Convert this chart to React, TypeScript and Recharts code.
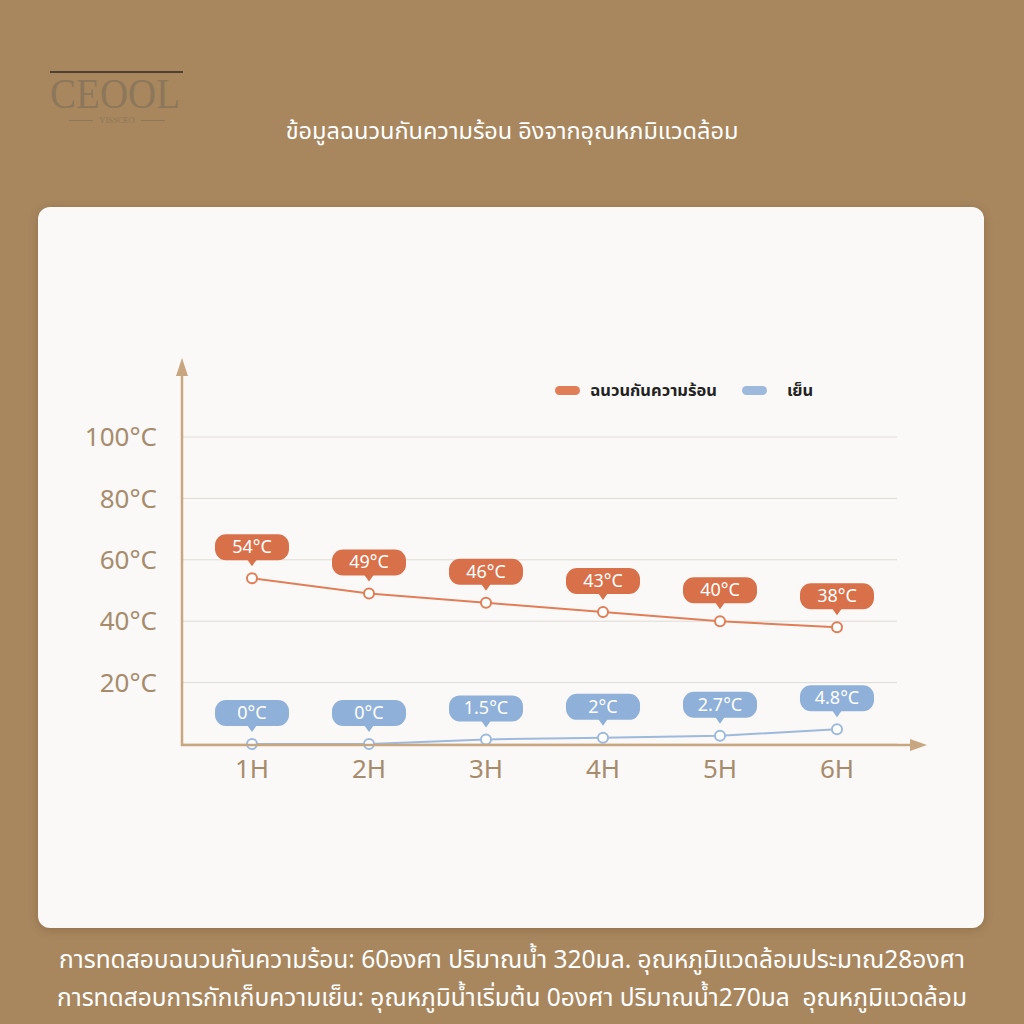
import { LineChart, Line, XAxis, YAxis, CartesianGrid, LabelList } from 'recharts';

const hours = ['1H', '2H', '3H', '4H', '5H', '6H'];
const hotValues = [54, 49, 46, 43, 40, 38];
const coldValues = [0, 0, 1.5, 2, 2.7, 4.8];
const yTicks = [20, 40, 60, 80, 100];

const hotName = 'ฉนวนกันความร้อน';
const coldName = 'เย็น';

const data = hours.map((h, i) => ({ hour: h, hot: hotValues[i], cold: coldValues[i] }));

const ORANGE = '#E07E58';
const ORANGE_PILL = '#D8704A';
const BLUE = '#9DBADD';
const BLUE_PILL = '#8FB0D8';
const AXIS = '#C8A680';
const TICK = '#A68C6C';
const THAI = '"Noto Sans Thai", "Noto Sans", "DejaVu Sans", sans-serif';

const makePill = (color: string) => (props: any) => {
    const { x, y, value } = props;
    const w = 74;
    const h = 26;
    const cy = y - 31;
    const top = cy - h / 2;
    const bottom = cy + h / 2;
    return (
        <g>
            <rect x={x - w / 2} y={top} width={w} height={h} rx={11} ry={11} fill={color} />
            <path d={`M${x - 5},${bottom - 1} L${x + 5},${bottom - 1} L${x},${bottom + 6} Z`} fill={color} />
            <text
                x={x}
                y={cy + 1}
                textAnchor="middle"
                dominantBaseline="middle"
                fill="#fff"
                fontSize={18}
                fontFamily='"Noto Sans", sans-serif'
            >
                {`${value}°C`}
            </text>
        </g>
    );
};

const LegendBox = () => (
    <div style={{ display: 'flex', alignItems: 'center', fontFamily: THAI, fontWeight: 700, fontSize: 16.5, color: '#222' }}>
        <span style={{ width: 25, height: 9, borderRadius: 5, background: ORANGE, display: 'inline-block', marginRight: 10 }} />
        <span>{hotName}</span>
        <span style={{ width: 25, height: 9, borderRadius: 5, background: BLUE, display: 'inline-block', marginLeft: 25, marginRight: 20 }} />
        <span>{coldName}</span>
    </div>
);

export default function App() {
    return (
        <div style={{ position: 'absolute', left: 0, top: 0, width: 1024, height: 1024, background: '#A8875F', overflow: 'hidden' }}>
            {/* logo */}
            <div style={{ position: 'absolute', left: 50, top: 71, width: 133, height: 1.5, background: '#4E4034' }} />
            <div style={{ position: 'absolute', left: 50, top: 76, fontFamily: '"Liberation Serif", serif', fontSize: 42, lineHeight: '36px', color: '#8D775B', transform: 'scaleX(0.93)', transformOrigin: 'left top' }}>
                CEOOL
            </div>
            <div style={{ position: 'absolute', left: 56, top: 116, width: 122, display: 'flex', alignItems: 'center', justifyContent: 'center', fontFamily: '"Liberation Serif", serif', fontSize: 8.5, lineHeight: '9px', color: '#8D775B' }}>
                <span style={{ width: 24, height: 1, background: '#8D775B', marginRight: 6 }} />
                VISSCEO
                <span style={{ width: 24, height: 1, background: '#8D775B', marginLeft: 6 }} />
            </div>

            <div style={{ position: 'absolute', left: 0, width: 1024, top: 114, textAlign: 'center', fontFamily: THAI, fontSize: 23.5, color: '#fff' }}>
                ข้อมูลฉนวนกันความร้อน อิงจากอุณหภมิแวดล้อม
            </div>

            {/* card */}
            <div style={{ position: 'absolute', left: 38, top: 207, width: 946, height: 721, background: '#FBF9F7', borderRadius: 12, boxShadow: '0 2px 10px rgba(80,50,20,0.25)' }} />

            <div style={{ position: 'absolute', left: 0, top: 0 }}>
                <LineChart
                    width={1024}
                    height={1024}
                    data={data}
                    margin={{ top: 437, right: 127, left: 82, bottom: 240 }}
                >
                    <CartesianGrid horizontal vertical={false} stroke="#DEDAD5" strokeWidth={1} />
                    <XAxis
                        dataKey="hour"
                        height={40}
                        padding={{ left: 70, right: 60 }}
                        axisLine={false}
                        tickLine={false}
                        tickSize={0}
                        tickMargin={16}
                        tick={{ fill: TICK, fontSize: 26, fontFamily: '"Noto Sans", sans-serif' }}
                    />
                    <YAxis
                        width={100}
                        domain={[0, 100]}
                        ticks={yTicks}
                        axisLine={false}
                        tickLine={false}
                        tickSize={0}
                        tickMargin={25}
                        tickFormatter={(v: number) => `${v}°C`}
                        tick={{ fill: TICK, fontSize: 26, fontFamily: '"Noto Sans", sans-serif' }}
                    />
                    <Line
                        dataKey="hot"
                        name={hotName}
                        type="linear"
                        stroke={ORANGE}
                        strokeWidth={2}
                        dot={{ r: 5, fill: '#fff', stroke: ORANGE, strokeWidth: 2 }}
                        isAnimationActive={false}
                    >
                        <LabelList dataKey="hot" content={makePill(ORANGE_PILL)} />
                    </Line>
                    <Line
                        dataKey="cold"
                        name={coldName}
                        type="linear"
                        stroke={BLUE}
                        strokeWidth={2}
                        dot={{ r: 5, fill: '#fff', stroke: BLUE, strokeWidth: 2 }}
                        isAnimationActive={false}
                    >
                        <LabelList dataKey="cold" content={makePill(BLUE_PILL)} />
                    </Line>
                </LineChart>
            </div>

            {/* legend */}
            <div style={{ position: 'absolute', left: 555, top: 378 }}>
                <LegendBox />
            </div>

            {/* axis arrows */}
            <svg width={1024} height={1024} style={{ position: 'absolute', left: 0, top: 0, pointerEvents: 'none' }}>
                <line x1={182} y1={746} x2={182} y2={372} stroke={AXIS} strokeWidth={2.5} />
                <path d="M176,376 L188,376 L182,358 Z" fill={AXIS} />
                <line x1={181} y1={745} x2={912} y2={745} stroke={AXIS} strokeWidth={2.5} />
                <path d="M910,739 L910,751 L927,745 Z" fill={AXIS} />
            </svg>

            <div style={{ position: 'absolute', left: 0, width: 1024, top: 942, textAlign: 'center', fontFamily: THAI, fontSize: 24.5, color: '#fff', lineHeight: '38px' }}>
                <div>การทดสอบฉนวนกันความร้อน: 60องศา ปริมาณน้ำ 320มล. อุณหภูมิแวดล้อมประมาณ28องศา</div>
                <div>การทดสอบการกักเก็บความเย็น: อุณหภูมิน้ำเริ่มต้น 0องศา ปริมาณน้ำ270มล&nbsp;&nbsp;อุณหภูมิแวดล้อม</div>
            </div>
        </div>
    );
}
